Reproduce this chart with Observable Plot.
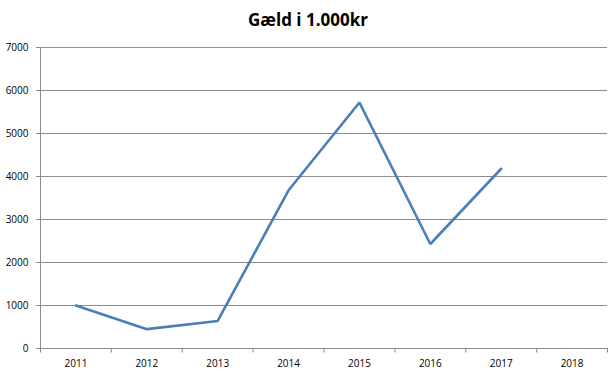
<!DOCTYPE html>
<html>
<head>
<meta charset="utf-8">
<script src="https://cdn.jsdelivr.net/npm/d3@7"></script>
<script src="https://cdn.jsdelivr.net/npm/@observablehq/plot@0.6"></script>
<style>
  html, body { margin: 0; padding: 0; background: #fff; }
  #wrap { width: 616px; height: 374px; position: relative; overflow: hidden; }
  #title { position: absolute; left: 0; top: 8px; width: 616px; text-align: center;
    font-family: "Open Sans", Lato, sans-serif; font-weight: 700; font-size: 17px; color: #000; line-height: 24px; }
  #chart { position: absolute; left: 0; top: 36px; }
  svg text { fill: #000; }
</style>
</head>
<body>
<div id="wrap">
  <div id="title">Gæld i 1.000kr</div>
  <div id="chart"></div>
</div>
<script>
const years = [2011, 2012, 2013, 2014, 2015, 2016, 2017, 2018];
const lineYears = [2011, 2012, 2013, 2014, 2015, 2016, 2017];
const debt = [1000, 450, 640, 3680, 5720, 2430, 4180];
const yTicks = [0, 1000, 2000, 3000, 4000, 5000, 6000, 7000];

const data = lineYears.map((y, i) => ({year: y, value: debt[i]}));
const bounds = [years[0] - 0.5, ...years.map(y => y + 0.5)];

const chart = Plot.plot({
  width: 616,
  height: 338,
  marginTop: 11,
  marginBottom: 26,
  marginLeft: 40,
  marginRight: 9,
  style: {fontFamily: "'Open Sans', sans-serif", fontSize: "10px", background: "#fff"},
  x: {type: "linear", domain: [years[0] - 0.5, years[years.length - 1] + 0.5]},
  y: {domain: [0, 7000]},
  marks: [
    Plot.ruleY(yTicks.slice(1), {stroke: "#8c8c8c", strokeWidth: 1, strokeOpacity: 1}),
    Plot.ruleX([years[0] - 0.5], {y1: 0, y2: 7000, stroke: "#8c8c8c", strokeOpacity: 1}),
    Plot.ruleY([0], {stroke: "#8c8c8c", strokeOpacity: 1}),
    Plot.ruleX(bounds, {y1: 0, y2: -105, stroke: "#8c8c8c", strokeOpacity: 1}),
    Plot.axisY({ticks: yTicks, tickSize: 4, tickPadding: 8, tickFormat: d => String(d), label: null, stroke: "#8c8c8c"}),
    Plot.axisX({ticks: years, tickSize: 0, tickPadding: 11, tickFormat: d => String(d), label: null}),
    Plot.line(data, {x: "year", y: "value", stroke: "#4a7ebb", strokeWidth: 2.6, strokeLinejoin: "miter"})
  ]
});
document.getElementById("chart").appendChild(chart);
</script>
</body>
</html>
